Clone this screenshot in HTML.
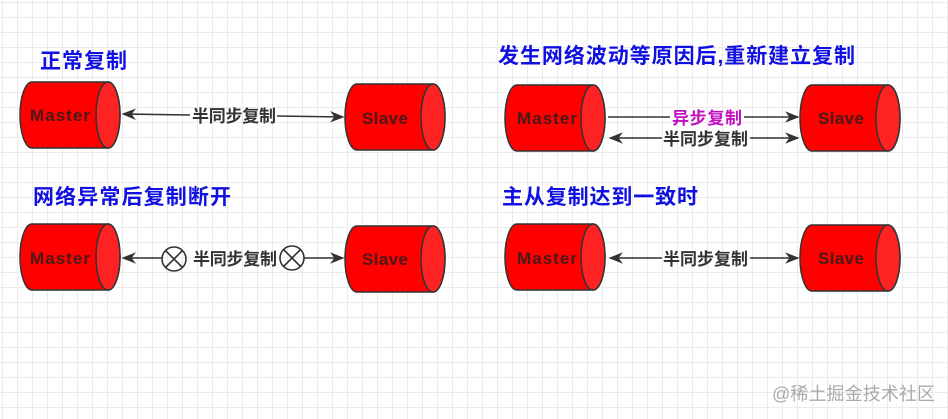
<!DOCTYPE html>
<html><head><meta charset="utf-8"><style>
html,body{margin:0;padding:0;}
body{width:948px;height:419px;overflow:hidden;background:#fff;
background-image:linear-gradient(#ebebeb 1px,transparent 1px),linear-gradient(90deg,#ebebeb 1px,transparent 1px);
background-size:15px 15px;background-position:2px 2px;}
svg{position:absolute;left:0;top:0;}
text{font-family:"Liberation Sans","Noto Sans CJK SC",sans-serif;font-weight:bold;}
</style></head><body>
<svg width="948" height="419" viewBox="0 0 948 419">
<defs>
<marker id="a" viewBox="0 0 10 10" refX="9" refY="5" markerWidth="9" markerHeight="9" orient="auto-start-reverse"><path d="M0,1 L10,5 L0,9 L3,5z" fill="#333"/></marker>
<g id="cyl">
<path d="M12,0 L88,0 A12,33 0 0 1 88,66 L12,66 A12,33 0 0 1 12,0z" fill="#f00" stroke="#333" stroke-width="1.5"/>
<ellipse cx="88" cy="33" rx="12" ry="33" fill="#f22" stroke="#333" stroke-width="1.5"/>
</g>
</defs>
<g fill="#1010e0" font-size="21">
<text x="40" y="68" textLength="87">正常复制</text>
<text x="33" y="204" textLength="198">网络异常后复制断开</text>
<text x="498" y="63" textLength="357">发生网络波动等原因后,重新建立复制</text>
<text x="502" y="204" textLength="196">主从复制达到一致时</text>
</g>
<use href="#cyl" x="20" y="82"/>
<use href="#cyl" x="345" y="84"/>
<use href="#cyl" x="20" y="224"/>
<use href="#cyl" x="345" y="226"/>
<use href="#cyl" x="505" y="85"/>
<use href="#cyl" x="800" y="85"/>
<use href="#cyl" x="505" y="224"/>
<use href="#cyl" x="800" y="225"/>
<g fill="#4a1818" font-size="17">
<text x="30" y="121" textLength="60">Master</text>
<text x="362" y="124" textLength="46">Slave</text>
<text x="30" y="264" textLength="60">Master</text>
<text x="362" y="265" textLength="46">Slave</text>
<text x="517" y="124" textLength="60">Master</text>
<text x="818" y="124" textLength="46">Slave</text>
<text x="517" y="264" textLength="60">Master</text>
<text x="818" y="264" textLength="46">Slave</text>
</g>
<g stroke="#333" stroke-width="1.6" fill="none">
<line x1="123" y1="114" x2="190" y2="115" marker-start="url(#a)"/>
<line x1="277" y1="116" x2="343" y2="117" marker-end="url(#a)"/>
<line x1="123" y1="258" x2="162" y2="258" marker-start="url(#a)"/>
<line x1="304" y1="258" x2="343" y2="258" marker-end="url(#a)"/>
<circle cx="174" cy="259" r="12"/>
<path d="M166,251 L182,267 M182,251 L166,267"/>
<circle cx="292" cy="258" r="12"/>
<path d="M284,250 L300,266 M300,250 L284,266"/>
<line x1="608" y1="117" x2="670" y2="117"/>
<line x1="744" y1="117" x2="798" y2="117" marker-end="url(#a)"/>
<line x1="610" y1="138" x2="662" y2="138" marker-start="url(#a)"/>
<line x1="750" y1="138" x2="798" y2="138" marker-end="url(#a)"/>
<line x1="610" y1="258" x2="662" y2="258" marker-start="url(#a)"/>
<line x1="750" y1="258" x2="798" y2="258" marker-end="url(#a)"/>
</g>
<g fill="#333" font-size="17">
<text x="192" y="122" textLength="84">半同步复制</text>
<text x="193" y="265" textLength="84">半同步复制</text>
<text x="663" y="145" textLength="85">半同步复制</text>
<text x="663" y="265" textLength="85">半同步复制</text>
</g>
<text x="672" y="124" font-size="17" fill="#c010c0" textLength="70">异步复制</text>
<text x="772" y="400" font-size="18" fill="#aaa" style="font-weight:normal" textLength="163">@稀土掘金技术社区</text>
</svg>
</body></html>
